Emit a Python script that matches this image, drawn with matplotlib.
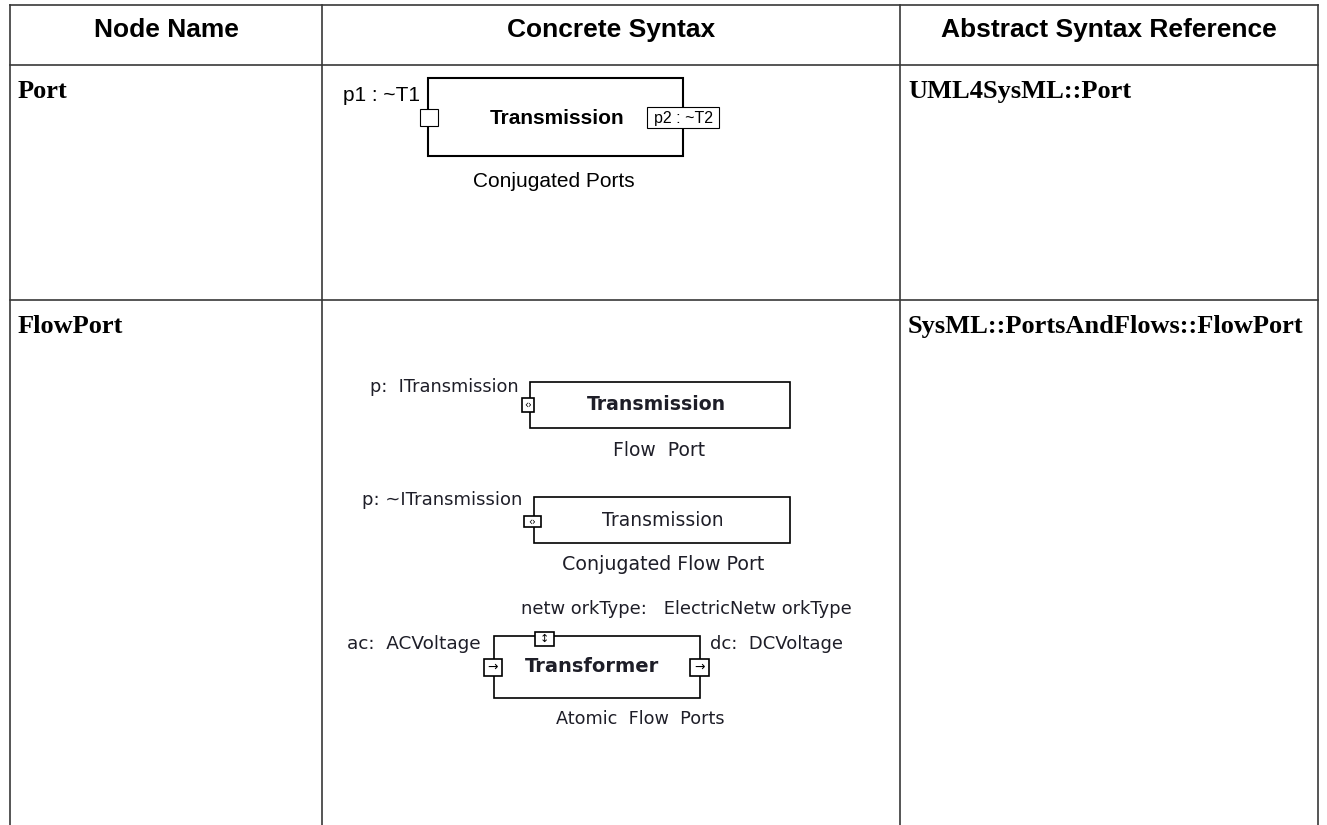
# Import Packages
# ***************
import matplotlib.pyplot as plt
from matplotlib.patches import Rectangle

# Table content
headers = ["Node Name", "Concrete Syntax", "Abstract Syntax Reference"]
node_names = ["Port", "FlowPort"]
abstract_refs = ["UML4SysML::Port", "SysML::PortsAndFlows::FlowPort"]

# Concrete syntax texts
port_labels = ["p1 : ~T1", "p2 : ~T2"]
port_block = "Transmission"
port_caption = "Conjugated Ports"

flow_labels = ["p:  ITransmission", "p: ~ITransmission"]
flow_blocks = ["Transmission", "Transmission"]
flow_captions = ["Flow  Port", "Conjugated Flow Port"]

atomic_labels = ["ac:  ACVoltage", "dc:  DCVoltage", "netw orkType:   ElectricNetw orkType"]
atomic_block = "Transformer"
atomic_caption = "Atomic  Flow  Ports"

# Layout (pixels)
W, H = 1327, 825
col_edges = [10, 322, 900, 1318]
row_edges = [5, 65, 300, 825]
line_col = "#383838"
ink = "#1e1e28"
sans = "Liberation Sans"
serif = "Liberation Serif"
diag = "DejaVu Sans"


def box(ax, x, y, w, h, lw=1.1, fc="none"):
    ax.add_patch(Rectangle((x, y), w, h, fill=(fc != "none"), facecolor=fc,
                           edgecolor="black", linewidth=lw, zorder=3))


fig = plt.figure(figsize=(W / 100, H / 100), dpi=100)
ax = fig.add_axes([0, 0, 1, 1])
ax.set_xlim(0, W)
ax.set_ylim(H, 0)
ax.axis("off")

# Table grid
for y in row_edges[:-1]:
    ax.plot([col_edges[0], col_edges[-1]], [y, y], color=line_col, lw=1.2)
for x in col_edges:
    ax.plot([x, x], [row_edges[0], row_edges[-1]], color=line_col, lw=1.2)

# Header
for i, name in enumerate(headers):
    cx = (col_edges[i] + col_edges[i + 1]) / 2
    ax.text(cx, 37, name, ha="center", va="baseline", fontsize=19,
            fontweight="bold", family=sans)

# Node names and abstract references
for i, (name, ref) in enumerate(zip(node_names, abstract_refs)):
    base = row_edges[i + 1] + 33
    ax.text(18, base, name, ha="left", va="baseline", fontsize=19,
            fontweight="bold", family=serif)
    ax.text(908, base, ref, ha="left", va="baseline", fontsize=19,
            fontweight="bold", family=serif)

# Port: conjugated ports
box(ax, 428, 78, 255, 78, lw=1.5)
box(ax, 420, 109, 18, 17, lw=0.8, fc="white")
box(ax, 647, 107, 72, 21, lw=0.8, fc="white")
ax.text(343, 101, port_labels[0], ha="left", va="baseline", fontsize=15, family=sans)
ax.text(683, 118, port_labels[1], ha="center", va="center", fontsize=11.5,
        family=sans, zorder=4)
ax.text(557, 124, port_block, ha="center", va="baseline", fontsize=15,
        fontweight="bold", family=sans)
ax.text(554, 187, port_caption, ha="center", va="baseline", fontsize=15, family=sans)

# FlowPort: flow port
box(ax, 530, 382, 260, 46, lw=1.2)
box(ax, 522, 398, 12, 14, lw=1.2, fc="white")
ax.text(528, 405, "‹›", ha="center", va="center", fontsize=7, family=diag, zorder=4)
ax.text(370, 392, flow_labels[0], ha="left", va="baseline", fontsize=12.8,
        family=diag, color=ink)
ax.text(656, 405, flow_blocks[0], ha="center", va="center", fontsize=13.6,
        fontweight="bold", family=diag, color=ink)
ax.text(659, 451, flow_captions[0], ha="center", va="center", fontsize=13.5,
        family=diag, color=ink)

# FlowPort: conjugated flow port
box(ax, 534, 497, 256, 46, lw=1.2)
box(ax, 524, 516, 17, 11, lw=1.2, fc="white")
ax.text(532.5, 521.5, "‹›", ha="center", va="center", fontsize=7, family=diag, zorder=4)
ax.text(362, 505, flow_labels[1], ha="left", va="baseline", fontsize=13,
        family=diag, color=ink)
ax.text(663, 520, flow_blocks[1], ha="center", va="center", fontsize=13.5,
        family=diag, color=ink)
ax.text(663, 565, flow_captions[1], ha="center", va="center", fontsize=13.7,
        family=diag, color=ink)

# FlowPort: atomic flow ports
box(ax, 494, 636, 206, 62, lw=1.2)
box(ax, 535, 632, 19, 14, lw=1.2, fc="white")
box(ax, 484, 659, 18, 17, lw=1.2, fc="white")
box(ax, 690, 659, 19, 17, lw=1.2, fc="white")
ax.text(544.5, 639, "↕", ha="center", va="center", fontsize=8, family=diag, zorder=4)
ax.text(493, 667.5, "→", ha="center", va="center", fontsize=9, family=diag, zorder=4)
ax.text(699.5, 667.5, "→", ha="center", va="center", fontsize=9, family=diag, zorder=4)
ax.text(347, 644, atomic_labels[0], ha="left", va="center", fontsize=13.3,
        family=diag, color=ink)
ax.text(710, 644, atomic_labels[1], ha="left", va="center", fontsize=13,
        family=diag, color=ink)
ax.text(521, 609, atomic_labels[2], ha="left", va="center", fontsize=12.9,
        family=diag, color=ink)
ax.text(592, 666, atomic_block, ha="center", va="center", fontsize=14,
        fontweight="bold", family=diag, color=ink)
ax.text(640, 719, atomic_caption, ha="center", va="center", fontsize=12.7,
        family=diag, color=ink)

fig.savefig("out.png", dpi=100)
